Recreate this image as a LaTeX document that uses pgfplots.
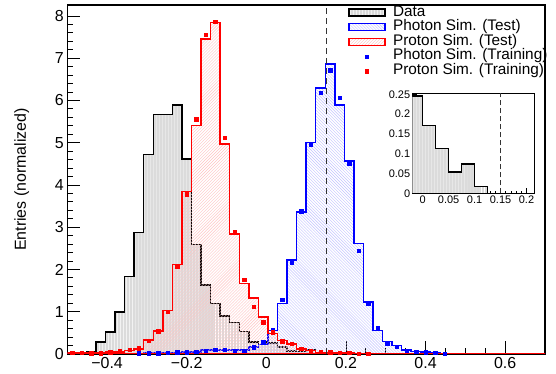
\documentclass[border=0pt]{standalone}
\usepackage{pgfplots}
\pgfplotsset{compat=1.18}
\usepackage{pgfplotstable}
\usepackage{fontspec}
\setmainfont{Liberation Sans}
\usetikzlibrary{patterns}

\pgfplotstableread{
xl data pho pro phot prot
-0.500 0.02 0 0.02 nan 0.03
-0.476 0.02 0 0.02 nan 0.03
-0.452 0.06 0 0.03 nan 0.02
-0.428 0.28 0 0.03 nan 0.02
-0.404 0.52 0 0.05 nan 0.04
-0.380 0.99 0 0.05 nan 0.07
-0.356 1.84 0 0.08 nan 0.10
-0.332 2.88 0.01 0.12 0.02 0.14
-0.308 4.72 0.02 0.33 0.02 0.31
-0.284 5.67 0.02 0.55 0.02 0.54
-0.260 5.67 0.03 1.03 0.03 1.00
-0.236 5.89 0.04 2.12 0.04 2.07
-0.212 4.62 0.05 3.84 0.04 3.78
-0.188 2.59 0.05 5.41 0.05 5.56
-0.164 1.63 0.09 7.45 0.08 7.55
-0.140 1.20 0.10 7.84 0.10 7.86
-0.116 0.90 0.10 4.97 0.10 5.12
-0.092 0.74 0.10 2.84 0.08 2.90
-0.068 0.53 0.10 1.67 0.08 1.76
-0.044 0.28 0.17 1.33 0.16 1.12
-0.020 0.22 0.22 0.88 0.28 0.75
0.004 0.26 0.56 0.48 0.56 0.52
0.028 0.16 1.19 0.32 1.28 0.30
0.052 0.07 2.22 0.24 2.17 0.24
0.076 0.06 3.36 0.12 3.38 0.12
0.100 0.10 5.00 0.08 4.95 0.07
0.124 0.02 6.30 0.04 6.18 0.05
0.148 0 6.86 0.03 6.72 0.04
0.172 0 5.89 0.03 6.06 0.03
0.196 0 4.57 0.02 4.50 0.03
0.220 0 2.61 0.01 2.44 0.01
0.244 0 1.23 0 1.20 0.01
0.268 0 0.56 0 0.62 nan
0.292 0 0.30 0 0.26 nan
0.316 0 0.20 0 0.17 nan
0.340 0 0.10 0 0.08 nan
0.364 0 0.06 0 0.05 nan
0.388 0 0.05 0 0.04 nan
0.412 0 0.03 0 0.03 nan
0.436 0 0.01 0 0.01 nan
0.460 0 0.01 0 nan nan
0.484 0 0 0 nan nan
0.508 0 0 0 nan nan
0.532 0 0 0 nan nan
0.556 0 0 0 nan nan
0.580 0 0 0 nan nan
0.604 0 0 0 nan nan
0.628 0 0 0 nan nan
0.652 0 0 0 nan nan
0.676 0 0 0 nan nan
0.700 0 0 0 nan nan
}\hist

\pgfplotstableread{
xl data
-0.025 0.246
0.000 0.171
0.025 0.114
0.050 0.054
0.075 0.074
0.100 0.017
0.125 0
0.215 0
}\inset

\pgfplotsset{
  myarea/.style={legend image code/.code={\draw[##1] (0bp,-3.5bp) rectangle (36bp,3.5bp); \path (0bp,-4bp) (43.4bp,4bp);}},
  mymark/.style={legend image code/.code={\draw[##1] plot coordinates {(18bp,0bp)}; \path (0bp,-4bp) (43.4bp,4bp);}},
}

\begin{document}
\begin{tikzpicture}
\begin{axis}[
  name=main,
  scale only axis,
  width=477.7bp, height=349bp,
  xmin=-0.5, xmax=0.7, ymin=0, ymax=8.26,
  axis line style={black, line width=1.1bp},
  tick align=inside, tick pos=left,
  every tick/.style={black, line width=0.9bp},
  major tick length=13bp, minor tick length=6bp,
  xtick={-0.4,-0.2,0,0.2,0.4,0.6},
  xticklabels={−0.4,−0.2,0,0.2,0.4,0.6},
  ytick={0,1,2,3,4,5,6,7,8},
  yticklabels={0,1,2,3,4,5,6,7,8},
  minor x tick num=3, minor y tick num=4,
  tick label style={font=\fontsize{16}{16}\selectfont},
  ylabel={Entries (normalized)},
  every axis y label/.style={at={(axis description cs:-0.0955,0.5)}, rotate=90, anchor=center, font=\fontsize{16}{16}\selectfont},
  legend style={draw=none, fill=none, at={(axis description cs:0.588,0.999)}, anchor=north west,
    inner sep=0pt, outer sep=0pt, font=\fontsize{15.4}{15.4}\selectfont,
    cells={anchor=west}, row sep=0pt, column sep=0pt,
    nodes={inner sep=0pt, text height=10.8bp, text depth=3.8bp}},
  legend cell align=left,
]
\addplot[myarea, const plot, draw=black, line width=1.5bp, fill=black!14,
  postaction={pattern=vertical lines, pattern color=white}]
  table[x=xl, y=data]{\hist} \closedcycle;
\addlegendentry{Data}
\addplot[myarea, const plot, draw=blue, line width=1.5bp, pattern=north west lines, pattern color=blue!24]
  table[x=xl, y=pho]{\hist} \closedcycle;
\addlegendentry{Photon Sim. (Test)}
\addplot[myarea, const plot, draw=red, line width=1.5bp, pattern=north east lines, pattern color=red!24]
  table[x=xl, y=pro]{\hist} \closedcycle;
\addlegendentry{Proton Sim. (Test)}
\addplot[mymark, only marks, mark=square*, mark size=1.7bp, blue, mark options={draw=blue, fill=blue}]
  table[x expr=\thisrow{xl}+0.012, y=phot]{\hist};
\addlegendentry{Photon Sim. (Training)}
\addplot[mymark, only marks, mark=square*, mark size=1.7bp, red, mark options={draw=red, fill=red}]
  table[x expr=\thisrow{xl}+0.012, y=prot]{\hist};
\addlegendentry{Proton Sim. (Training)}
\addplot[forget plot, black!80, line width=1.1bp, dash pattern=on 6bp off 4bp] coordinates {(0.15,0) (0.15,8.26)};
\end{axis}

\begin{axis}[
  name=inset,
  at={(main.south west)}, anchor=south west, xshift=345bp, yshift=160.5bp,
  scale only axis,
  width=122bp, height=100bp,
  xmin=-0.02, xmax=0.215, ymin=0, ymax=0.252,
  axis background/.style={fill=white},
  axis line style={black, line width=1.1bp},
  tick align=inside, tick pos=left,
  every tick/.style={black, line width=0.7bp},
  major tick length=5bp, minor tick length=2.5bp,
  xtick={0,0.05,0.1,0.15,0.2},
  xticklabels={0,0.05,0.1,0.15,0.2},
  ytick={0,0.05,0.1,0.15,0.2,0.25},
  yticklabels={0,0.05,0.1,0.15,0.2,0.25},
  minor x tick num=4, minor y tick num=4,
  tick label style={font=\fontsize{11}{11}\selectfont},
  xticklabel style={inner sep=2pt},
  yticklabel style={inner sep=2pt},
]
\addplot[const plot, draw=black, line width=1.5bp, fill=black!14,
  postaction={pattern=vertical lines, pattern color=white}]
  table[x=xl, y=data]{\inset} \closedcycle;
\addplot[black!80, line width=1.1bp, dash pattern=on 5bp off 3bp] coordinates {(0.15,0) (0.15,0.252)};
\end{axis}

\pgfresetboundingbox
\path[use as bounding box] ([shift={(-67.3bp,-20bp)}]main.south west) rectangle ([shift={(11bp,5bp)}]main.north east);
\end{tikzpicture}
\end{document}
